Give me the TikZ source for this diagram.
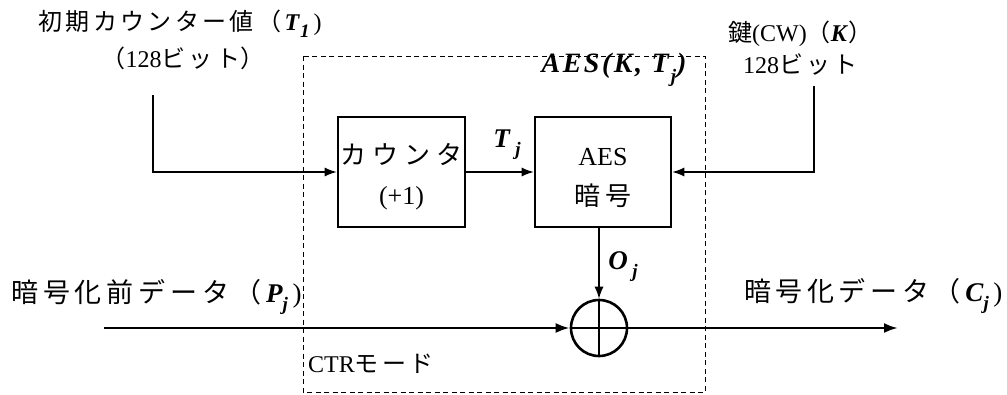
\documentclass[tikz,border=0pt]{standalone}
\usepackage{fontspec}
\setmainfont{Liberation Serif}
\usetikzlibrary{arrows.meta,calc}
\newfontfamily\jp[LetterSpace=14]{Noto Sans CJK JP}
\newfontfamily\jpw[LetterSpace=18]{Noto Sans CJK JP}
\newfontfamily\jpc[LetterSpace=17]{Noto Sans CJK JP}
\newfontfamily\jpb[LetterSpace=22]{Noto Sans CJK JP}
\newfontfamily\jpn{Noto Sans CJK JP}
\newfontfamily\lsv[LetterSpace=9]{Liberation Serif}
\newcommand\vr[1]{\textbf{\textit{#1}}}
\newcommand\sbs[1]{\raisebox{-0.3em}{\fontsize{19}{19}\selectfont\textbf{\textit{#1}}}}
\begin{document}
\begin{tikzpicture}[x=1pt,y=-1pt,
  blk/.style={draw,line width=2.6pt,rectangle,inner sep=0pt,align=center,font=\fontsize{26}{40}\selectfont},
  conn/.style={line width=1.2pt,-{Latex[length=12pt,width=9pt]}},
  thick data/.style={line width=2.6pt,-{Latex[length=14pt,width=10pt]}},
  lbl/.style={inner sep=0pt,font=\fontsize{24}{30}\selectfont},
  big/.style={inner sep=0pt,font=\fontsize{27}{32}\selectfont}]
\useasboundingbox (0,0) rectangle (1007,394);
% dashed frame
\draw[line width=1pt,dash pattern=on 5pt off 3.5pt] (303,56) rectangle (705,392);
% blocks
\node[blk,minimum width=127pt,minimum height=110pt] (counter) at (401.5,172) {\rule{0pt}{30pt}{\jpb カウンタ}\\(+1)};
\node[blk,minimum width=136pt,minimum height=110pt] (aes) at (603,172) {\rule{0pt}{30pt}AES\\{\jpb 暗号}};
\node[draw,circle,line width=2.6pt,minimum size=56pt,inner sep=0pt] (xor) at (599,328) {};
\draw[line width=2.6pt] (xor.north) -- (xor.south) (xor.west) -- (xor.east);
% coordinates
\coordinate (inT) at (153,95);
\coordinate (inK) at (814,86);
\coordinate (pin) at (104,328);
\coordinate (cout) at (898,328);
% connectors
\draw[conn] (inT) |- (counter.west);
\draw[conn] (inK) |- (aes.east);
\draw[conn] (counter.east) -- (aes.west);
\draw[conn] (aes.south -| xor.north) -- (xor.north);
\draw[thick data] (pin) -- (xor.west);
\draw[thick data] (xor.east) -- (cout);
% labels
\node[lbl] (lT1) at (180,24) {{\jp 初期カウンター値（}\vr{T}\sbs{1}\,)};
\node[lbl] (l128a) at (183,58) {{\jpn （}128{\jp ビット}{\jpn ）}};
\node[lbl,anchor=west] (lK) at (728,34) {{\jpn 鍵}(CW){\jpn （}\vr{K}{\jpn ）}};
\node[lbl,anchor=west] (l128b) at (743,65) {128{\jp ビット}};
\node[lbl,font=\fontsize{28}{30}\selectfont] (laesk) at (614,70) {{\lsv\bfseries\itshape AES(K,\ T}\kern2pt\raisebox{-0.35em}{\fontsize{19}{19}\selectfont\bfseries\itshape j}\kern1pt{\lsv\bfseries\itshape )}};
\node[lbl,font=\fontsize{27}{30}\selectfont] (lTj) at (507,145) {\vr{T}\,\sbs{j}};
\node[lbl,font=\fontsize{27}{30}\selectfont] (lOj) at (623,267) {\vr{O}\,\sbs{j}};
\node[big,anchor=west] (lP) at (11,297) {{\jpw 暗号化前データ（}\vr{P}\sbs{j}\,)};
\node[big,anchor=west] (lC) at (744,296) {{\jpc 暗号化データ（}\vr{C}\sbs{j}\,)};
\node[lbl,anchor=west] (lctr) at (308,364) {CTR{\jp モード}};
\end{tikzpicture}
\end{document}
